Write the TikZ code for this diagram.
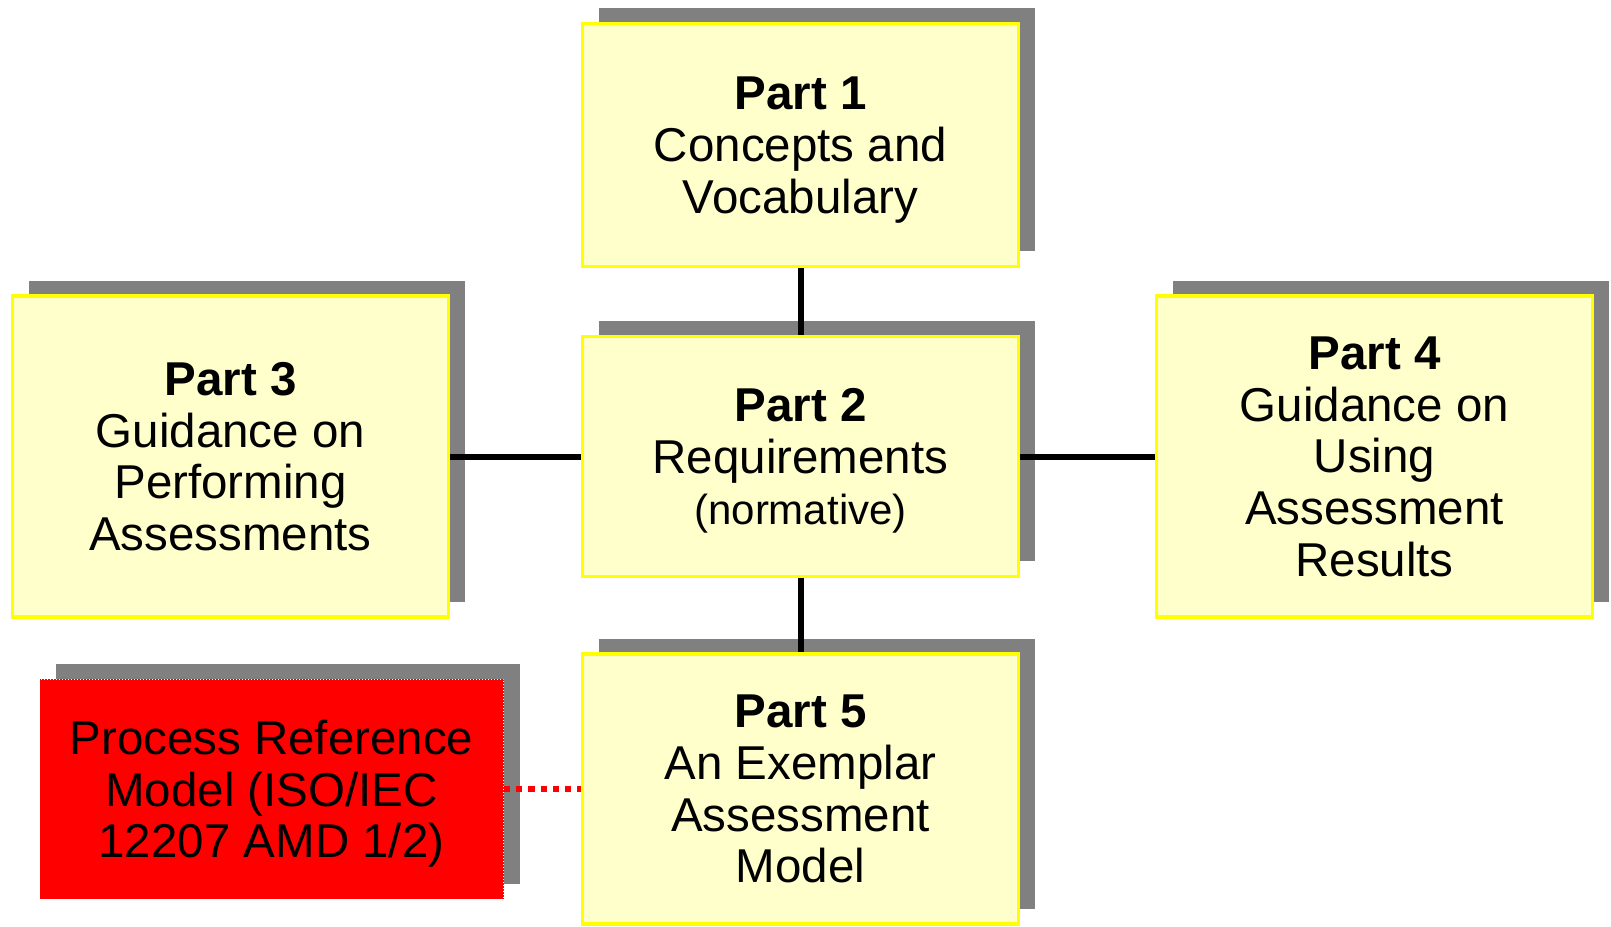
\documentclass[tikz,border=0pt]{standalone}
\usepackage{fontspec}
\setmainfont{Liberation Sans}
\usetikzlibrary{shadows}
\definecolor{boxfill}{HTML}{FFFFCC}
\definecolor{boxline}{HTML}{FFFF00}
\definecolor{shade}{HTML}{808080}
\definecolor{prmred}{HTML}{FF0000}
\tikzset{
  shadowed/.style={drop shadow={shadow xshift=16pt, shadow yshift=15.5pt, fill=shade, opacity=1}},
  partbox/.style={shadowed, draw=boxline, fill=boxfill, line width=3.3pt,
    minimum width=436pt, align=center, inner sep=0pt, text depth=0pt,
    font=\fontsize{47.5}{51.7}\selectfont},
  prmbox/.style={shadowed, draw=white, fill=prmred, line width=1pt, dotted,
    minimum width=464pt, minimum height=220pt, align=center, inner sep=0pt,
    text depth=0pt, font=\fontsize{47.5}{51.7}\selectfont},
  conn/.style={draw=black, line width=6pt},
  prmconn/.style={draw=prmred, line width=6pt, dash pattern=on 6.2pt off 6pt},
}
\begin{document}
\begin{tikzpicture}[x=1pt,y=-1pt]
\useasboundingbox (0,0) rectangle (1611,926);
\node[partbox, minimum height=243pt] (p1) at (800.5,145)
  {\textbf{Part 1}\\Concepts and\\Vocabulary};
\node[partbox, minimum height=240pt] (p2) at (800.5,456.5)
  {\textbf{Part 2}\\Requirements\\{\fontsize{42}{48}\selectfont (normative)}};
\node[partbox, minimum height=321pt] (p3) at (230.5,456.5)
  {\textbf{Part 3}\\Guidance on\\Performing\\Assessments};
\node[partbox, minimum height=321pt] (p4) at (1374.5,456.5)
  {\textbf{Part 4}\\Guidance on\\Using\\Assessment\\Results};
\node[partbox, minimum height=270pt] (p5) at (800.5,789)
  {\textbf{Part 5}\\An Exemplar\\Assessment\\Model};
\node[prmbox] (prm) at (271.5,789)
  {Process Reference\\Model (ISO/IEC\\12207 AMD 1/2)};
\draw[conn] (p1.south) -- (p2.north);
\draw[conn] (p2.south) -- (p5.north);
\draw[conn] (p3.east) -- (p2.west);
\draw[conn] (p2.east) -- (p4.west);
\draw[prmconn] (prm.east) -- (p5.west);
\end{tikzpicture}
\end{document}
